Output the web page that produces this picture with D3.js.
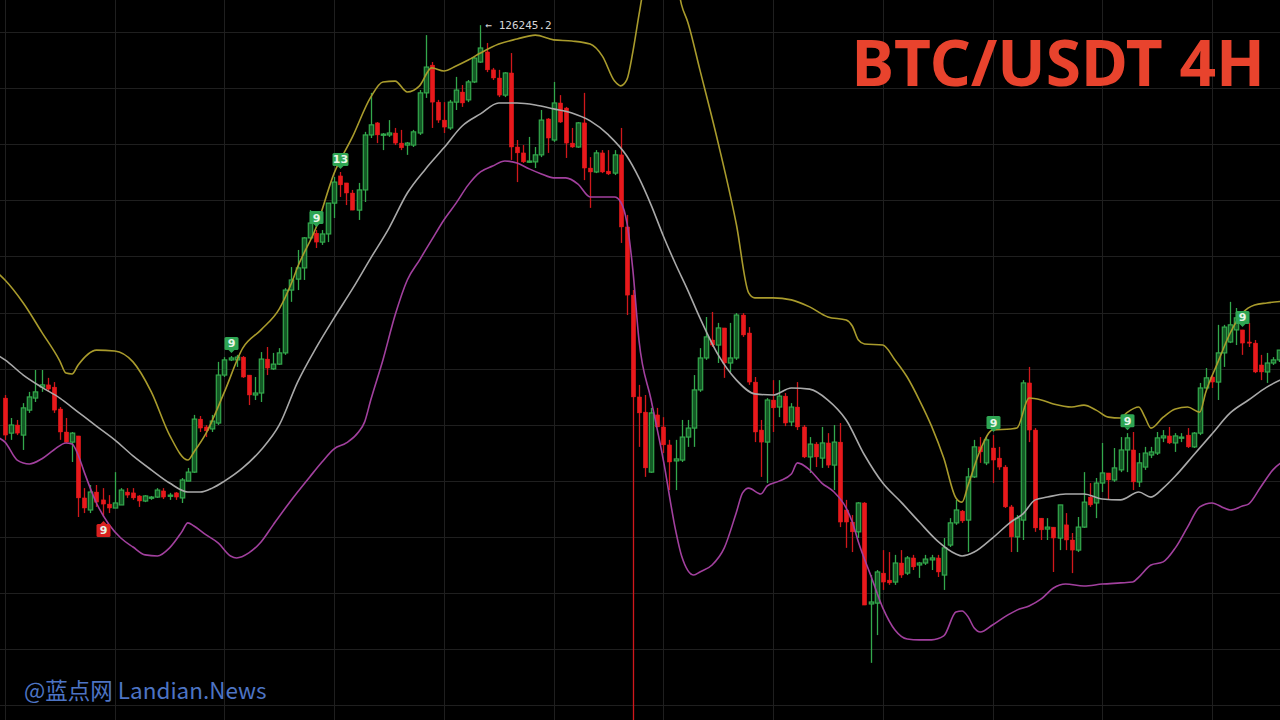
<!DOCTYPE html>
<html><head><meta charset="utf-8">
<script src="https://cdn.jsdelivr.net/npm/d3@7/dist/d3.min.js"></script>
<style>html,body{margin:0;padding:0;background:#000;overflow:hidden}</style>
</head><body>
<svg id="chart" width="1280" height="720"></svg>
<script>
// ---- Data: BTC/USDT 4H candles (USD) ----
const candleOpen = [112950,111700,111990,111630,112520,112950,113340,113420,113340,112560,111740,111380,111600,109390,108960,109600,109320,109170,109030,109140,109600,109570,109460,109280,109390,109420,109640,109460,109570,109390,109990,110310,112200,111920,111850,112060,113770,114310,114310,114410,113770,113060,113130,114340,113990,114160,114560,116800,117190,117590,118660,118830,118510,118800,119900,120870,120620,120260,119650,120370,122330,122760,122330,122330,122400,122040,121970,121970,122400,123830,124820,123500,122860,122580,123500,123860,123580,124220,124930,125290,124650,124360,123750,124540,121900,121690,121370,121370,121620,122900,122150,123470,123290,122040,121900,122760,121150,121010,121690,121040,120970,121620,119050,116620,112990,112450,110310,112350,111920,111280,110710,110740,111560,111880,113240,114380,115020,114840,115450,114200,114380,115910,115270,113520,111810,111380,112880,112630,113020,112100,112630,111920,110850,111310,110810,111350,110560,111380,108960,108530,108180,109210,105610,105640,106710,106460,106390,107070,106710,107250,107000,107070,107180,107250,106640,107710,108500,108920,108600,110140,111210,110640,111170,110810,110490,109070,108000,108600,113490,111810,108670,108280,108350,107960,108430,107890,107530,108350,109420,109210,109920,110280,110030,110390,111100,111100,109960,110490,110920,110990,111530,111600,111350,111530,111630,111210,111700,113310,113700,113520,114560,114950,115380,115380,114950,114910,114130,113880,114200,114310];
const candleHigh = [113060,112240,112170,112770,113170,113950,113950,113670,113520,112630,112240,111740,111600,109740,109850,109850,109740,109490,110310,109740,109740,109740,109490,109490,109460,109740,109740,109570,109600,110100,110460,112350,112310,111990,112350,114240,114410,114450,114490,114450,113770,113700,114590,114770,114560,114730,116870,117620,118230,118690,119650,118940,118940,119900,120830,121010,120620,120370,120620,122440,123830,122790,122400,122860,122580,122510,122080,122510,123930,125890,124930,123580,123500,123580,124400,124110,124290,125110,126245.2,125610,124720,124650,124570,125250,122150,121970,122260,121900,123220,122930,124220,123750,123330,122580,122790,123830,121540,121790,121790,121790,121790,122580,119480,116800,113420,113060,112600,112600,112270,111460,111460,112170,112170,113770,114730,115840,116020,115630,115450,115630,115980,115980,115480,113700,112170,112950,113590,113590,113130,112770,113520,111990,111560,111380,111920,111700,111990,112060,109320,108780,109240,109240,106640,106820,107530,107460,107360,107530,107320,107360,107110,107360,107360,107360,107960,108670,109320,108960,110460,111460,111560,111560,111630,111210,110560,109140,108780,113590,114060,111880,108670,108670,108350,109140,108850,108140,108710,110310,109920,110100,111350,110280,111170,111560,111700,111740,110990,111210,111210,111740,111810,111920,111700,111700,111880,111740,113490,114020,113770,115560,115560,116380,116160,115380,115630,115020,114490,114560,114410,114660];
const candleLow = [111460,111460,111630,111100,112420,112810,113170,113170,112420,111460,111350,110670,108710,108850,108850,109070,108710,108850,109030,109140,109390,109320,109070,109240,109320,109390,109350,109320,109320,109210,109990,110280,111740,111560,111740,111990,113700,114270,114060,113670,112700,112880,112810,113770,113950,114130,114490,116380,116800,117160,118590,118300,118410,118510,119370,120120,119830,119650,119300,119940,122220,122040,121790,122260,121970,121790,121620,121900,122330,123650,122580,122760,122400,122510,123220,123330,123500,124180,124900,124570,124290,123680,123680,121440,120650,121330,121330,121150,121540,121690,122080,122760,121510,121870,121870,120720,119730,120970,120970,120900,120900,118480,115910,101000,111210,110140,110280,111920,110990,109670,109670,110670,111210,111210,113170,114310,114770,114200,113670,113880,114310,115130,113420,111380,110140,109920,111740,112270,111950,111950,111810,110810,110280,110490,110460,110460,109670,108350,107610,107460,107960,105570,103510,104500,106110,106290,106290,106540,106640,106820,106540,107000,106820,106570,106110,107640,108430,108500,107460,110100,110640,110560,109920,110390,109030,107460,107460,107890,111380,108180,107890,107890,106750,107530,107530,106710,107460,108320,109070,108670,109600,109320,109960,110310,110310,109670,109780,110390,110810,110920,111380,111310,111030,111380,111170,111170,111630,113240,113310,112880,114060,114910,114840,114490,114770,113840,113590,113490,114130,114240];
const candleClose = [111630,111990,111700,112600,112990,113170,113420,113270,112520,111740,111380,111700,109390,109030,109600,109240,109170,109030,109210,109670,109490,109390,109280,109460,109420,109670,109420,109490,109420,110030,110310,112200,111880,111780,112130,113770,114310,114380,114410,113700,113060,113130,114340,114020,114160,114560,116800,117160,117590,118660,119190,118510,118800,119900,120650,120550,120260,119650,120370,122330,122690,122330,122360,122400,122040,121870,122040,122440,123830,124750,123500,122860,122610,123500,123930,123470,124220,125070,125430,124650,124360,123750,124540,121900,121690,121370,121400,121620,122860,122220,123470,122790,122040,121900,122760,121150,121010,121690,121010,120940,121620,119050,116620,112990,112420,110460,112420,111920,111280,110670,110780,111560,111880,113240,114380,115130,114840,115450,114200,114380,115910,115200,113520,111740,111380,112880,112600,113020,112060,112630,111920,110850,111310,110850,111350,110560,111380,108530,108530,108180,109210,105570,105680,106750,106390,106360,107070,106640,107250,106930,107070,107210,107250,106750,107610,108500,108960,108570,110140,111210,111030,111460,110740,110490,109070,108000,108670,113490,111810,108320,108250,108350,107960,109140,107890,107530,108350,109240,109140,109920,110280,110030,110460,111100,111530,109960,110640,110990,111030,111530,111600,111350,111600,111560,111210,111700,113310,113670,113520,114560,115480,115560,115810,114910,114910,113880,113880,114200,114310,114660];

// Bollinger bands: candle index -> price
const upperIdx = [-1,0,3,6,9,10,11,12,15,18,21,24,27,30,31,33,36,39,42,45,47,48,51,54,57,60,62,64,66,68,70,72,74,76,78,81,84,87,90,93,96,98,100,101,102,103,104,105,106,108,110,111,112,114,117,120,122,123,126,129,132,135,138,139,140,141,144,146,148,150,152,154,156,157,158,160,162,165,166,168,170,172,175,177,179,181,183,184,186,187,188,190,192,194,196,197,199,201,203,205,207,210];
const upperVal = [117370,117160,116340,115310,114270,113840,113810,114130,114660,114630,114240,113170,111630,110740,111030,111700,113170,114730,115380,116130,117050,117620,119010,120970,122260,123680,124220,124250,123860,124080,124720,124610,124790,125000,125250,125570,125750,125890,125720,125680,125570,125140,124250,124080,124290,125290,126610,127850,128750,128920,128030,126960,126360,124650,122040,119120,116700,116520,116520,116450,116200,115840,115730,115520,115020,114880,114840,114310,113700,112880,111950,110810,109390,109240,109850,111100,111810,111850,111880,112950,112880,112740,112630,112700,112520,112270,112240,112420,112630,112270,111880,112270,112560,112630,112450,113170,114240,115270,115980,116270,116340,116410];
const middleIdx = [-1,0,3,6,9,12,15,18,21,24,27,30,32,34,36,39,42,45,48,51,54,57,60,63,66,69,72,75,78,81,84,87,90,93,96,99,102,104,106,108,110,112,114,117,120,123,126,129,132,135,138,141,144,147,150,153,156,157,159,162,165,167,169,171,174,177,180,183,186,188,190,192,195,198,201,204,207,210];
const middleVal = [114450,114310,113770,113340,112950,112450,111950,111460,110890,110390,109920,109600,109600,109740,109990,110460,111100,111990,113520,114730,115810,116840,117940,119010,120260,121120,121870,122650,123080,123470,123470,123400,123260,123110,122830,122330,121580,120800,119830,118730,117730,116800,115810,114490,113590,113100,113060,113310,113270,112880,112170,110920,109920,109240,108530,107850,107390,107320,107460,107960,108530,108820,109320,109420,109530,109530,109350,109320,109600,109420,109740,110170,110920,111670,112420,112880,113340,113670];
const lowerIdx = [-1,0,2,4,6,8,10,11,12,13,15,17,19,21,23,25,27,29,30,31,33,35,37,38,40,42,44,46,48,50,52,54,56,58,59,60,62,64,66,68,70,72,74,76,78,80,82,84,86,88,90,92,94,96,98,100,101,102,103,104,106,108,110,111,113,114,116,118,120,121,122,124,125,127,129,130,132,134,136,138,139,140,142,144,146,148,150,152,154,156,157,158,159,160,162,164,166,168,170,172,174,177,180,183,185,186,188,190,192,194,196,198,200,201,203,204,206,208,210];
const lowerVal = [111530,111380,110740,110600,110780,111100,111350,111310,110920,110310,109210,108460,107960,107640,107360,107320,107610,108180,108500,108390,108070,107780,107320,107250,107430,107820,108430,109030,109600,110140,110670,111140,111350,111740,112100,112880,114310,115910,117160,117870,118590,119300,119900,120550,121010,121220,121400,121330,121120,120940,120800,120800,120580,120120,120120,120120,119940,119230,117520,115020,112880,110740,108250,107320,106640,106750,107000,107610,108890,109570,109740,109530,109810,109990,110240,110640,110390,109920,109600,109030,108530,107820,106640,105470,104680,104360,104330,104330,104470,105320,105360,105150,104750,104610,104860,105150,105390,105540,105790,106180,106320,106250,106320,106360,106390,106570,107000,107110,107610,108350,109070,109210,109030,108960,109100,109170,109780,110390,110740];

// TD sequential counts
const tdIdx = [16, 37, 51, 55, 162, 184, 203];
const tdText = ["9", "9", "9", "13", "9", "9", "9"];
const tdSide = ["below", "above", "above", "above", "above", "above", "above"];

const highLabel = "126245.2";
const gridPrices = [102000,104000,106000,108000,110000,112000,114000,116000,118000,120000,122000,124000,126000];
const gridEvery = 18; // candles (3 days of 4H)

// ---- Drawing ----
const W = 1280, H = 720;
const N = candleOpen.length;
const svg = d3.select("#chart");
svg.append("rect").attr("width", W).attr("height", H).attr("fill", "#000");

const x = d3.scaleLinear().domain([0, N - 1]).range([5, 1279]);
const y = d3.scaleLinear().domain([101473, 127141]).range([H, 0]);

const grid = svg.append("g").attr("stroke", "#1f1f1f").attr("stroke-width", 1);
grid.selectAll("line.h").data(gridPrices).join("line").attr("class", "h")
  .attr("x1", 0).attr("x2", W)
  .attr("y1", d => Math.round(y(d)) + 0.5).attr("y2", d => Math.round(y(d)) + 0.5);
grid.selectAll("line.v").data(d3.range(0, N, gridEvery)).join("line").attr("class", "v")
  .attr("y1", 0).attr("y2", H)
  .attr("x1", d => Math.round(x(d)) + 0.5).attr("x2", d => Math.round(x(d)) + 0.5);

const candles = d3.range(N).map(i => ({
  i, o: candleOpen[i], h: candleHigh[i], l: candleLow[i], c: candleClose[i],
  up: candleClose[i] >= candleOpen[i]
}));
const GREEN = "#33a84c", GREEN_FILL = "#145a26", RED = "#e8191c";
const bw = 4.4;
const cg = svg.append("g");
cg.selectAll("line.wick").data(candles).join("line").attr("class", "wick")
  .attr("x1", d => Math.round(x(d.i)) + 0.5).attr("x2", d => Math.round(x(d.i)) + 0.5)
  .attr("y1", d => y(d.h)).attr("y2", d => y(d.l))
  .attr("stroke", d => d.up ? GREEN : "#d0181b").attr("stroke-width", 1.3);
cg.selectAll("rect.body").data(candles).join("rect").attr("class", "body")
  .attr("x", d => Math.round(x(d.i)) + 0.5 - bw / 2)
  .attr("width", bw)
  .attr("y", d => y(Math.max(d.o, d.c)))
  .attr("height", d => Math.max(1.2, Math.abs(y(d.o) - y(d.c))))
  .attr("fill", d => d.up ? GREEN_FILL : RED)
  .attr("stroke", d => d.up ? GREEN : RED)
  .attr("stroke-width", d => d.up ? 1.2 : 0.4);

function band(idx, vals, color) {
  const pts = idx.map((k, j) => [x(k), y(vals[j])]);
  svg.append("path").datum(pts)
    .attr("d", d3.line().curve(d3.curveMonotoneX))
    .attr("fill", "none").attr("stroke", color).attr("stroke-width", 1.6);
}
band(upperIdx, upperVal, "#a99b2c");
band(middleIdx, middleVal, "#a9a9a9");
band(lowerIdx, lowerVal, "#a2409e");

// TD labels
const tg = svg.append("g");
tdIdx.forEach((k, j) => {
  const cx = Math.round(x(k)) + 0.5;
  const above = tdSide[j] === "above";
  const col = above ? "#2ea553" : "#d9201f";
  const w = tdText[j].length > 1 ? 16 : 14, h = 13;
  const tipY = above ? y(candleHigh[k]) - 3 : y(candleLow[k]) + 4;
  const boxY = above ? tipY - 3 - h : tipY + 3;
  const g = tg.append("g");
  g.append("rect").attr("x", cx - w / 2).attr("y", boxY).attr("width", w).attr("height", h)
    .attr("rx", 1.5).attr("fill", col);
  const tri = above
    ? `M${cx - 3},${boxY + h} L${cx + 3},${boxY + h} L${cx},${tipY} Z`
    : `M${cx - 3},${boxY} L${cx + 3},${boxY} L${cx},${tipY} Z`;
  g.append("path").attr("d", tri).attr("fill", col);
  g.append("text").attr("x", cx).attr("y", boxY + h / 2 + 4)
    .attr("text-anchor", "middle").attr("font-family", "DejaVu Sans, sans-serif")
    .attr("font-size", 11).attr("font-weight", "bold").attr("fill", "#e8f5e8")
    .text(tdText[j]);
});

// High annotation
const hiIdx = candleHigh.indexOf(d3.max(candleHigh));
svg.append("text").attr("x", x(hiIdx) + 5).attr("y", y(candleHigh[hiIdx]) + 3.5)
  .attr("font-family", "DejaVu Sans Mono, monospace").attr("font-size", 11)
  .attr("fill", "#d6d6d6").text("\u2190 " + highLabel);

// Title
svg.append("text").attr("x", 1265).attr("y", 86).attr("text-anchor", "end")
  .attr("font-family", "Noto Sans, sans-serif").attr("font-weight", "bold")
  .attr("font-size", 64).attr("fill", "#e8432d").text("BTC/USDT 4H");

// Watermark
svg.append("text").attr("x", 24).attr("y", 699)
  .attr("font-family", "Noto Sans CJK SC, Noto Sans, sans-serif")
  .attr("font-size", 22.5).attr("fill", "#4d74c4").text("@蓝点网 Landian.News");
</script>
</body></html>
